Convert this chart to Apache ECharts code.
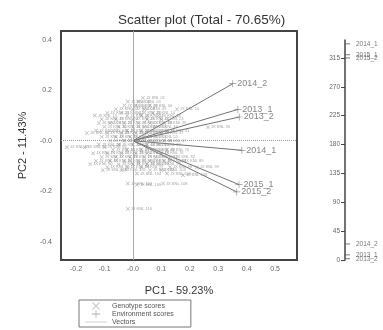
<!DOCTYPE html>
<html><head><meta charset="utf-8">
<script src="https://cdn.jsdelivr.net/npm/echarts@6/dist/echarts.min.js"></script>
<style>html,body{margin:0;padding:0;background:#fff}#c{width:383px;height:330px}</style>
</head><body><div id="c"></div>
<script>
// ---- data ----
const envNames = ['2014_2','2013_1','2013_2','2014_1','2015_1','2015_2'];
const envX = [0.351, 0.369, 0.374, 0.383, 0.373, 0.365];
const envY = [0.226, 0.124, 0.094, -0.038, -0.174, -0.203];
const envAngle = [25, 8, 2, 337, 320, 315];
const xTicks = [-0.2,-0.1,0,0.1,0.2,0.3,0.4,0.5];
const yTicks = [-0.4,-0.2,0,0.2,0.4];
const angleTicks = [0,45,90,135,180,225,270,315];
const genoX = [0.035,-0.018,0.02,-0.03,0.01,0.06,-0.06,0.0,0.04,0.155,-0.09,-0.04,0.02,0.07,-0.134,-0.02,0.03,0.09,
 -0.11,-0.06,0.0,0.05,0.1,-0.12,-0.08,-0.03,0.02,0.06,0.11,-0.1,-0.05,0.0,0.04,0.08,0.264,-0.13,-0.07,-0.02,0.03,0.07,0.12,
 -0.162,-0.09,-0.04,0.01,0.05,0.1,-0.11,-0.06,-0.01,0.04,0.08,-0.08,-0.03,0.02,0.06,0.11,-0.12,-0.05,0.0,0.05,0.09,
 -0.232,-0.17,-0.1,-0.07,-0.02,0.03,0.07,0.12,-0.14,-0.09,-0.04,0.01,0.05,0.1,-0.11,-0.06,-0.01,0.04,0.08,0.14,
 -0.13,-0.08,-0.03,0.02,0.06,0.11,0.17,-0.15,-0.05,0.0,0.05,0.09,-0.09,-0.02,0.03,0.13,0.225,-0.106,-0.04,0.06,0.1,
 0.014,0.12,0.176,-0.018,0.106,0.014,-0.018];
const genoY = [0.17,0.155,0.155,0.14,0.14,0.14,0.125,0.125,0.125,0.125,0.11,0.11,0.11,0.11,0.10,0.10,0.10,0.10,
 0.085,0.085,0.085,0.085,0.085,0.07,0.07,0.07,0.07,0.07,0.07,0.055,0.055,0.055,0.055,0.055,0.053,0.04,0.04,0.04,0.04,0.04,0.04,
 0.03,0.03,0.03,0.03,0.03,0.03,0.015,0.015,0.015,0.015,0.015,0.0,0.0,0.0,0.0,0.0,-0.015,-0.015,-0.015,-0.015,-0.015,
 -0.026,-0.026,-0.026,-0.035,-0.035,-0.035,-0.035,-0.035,-0.05,-0.05,-0.05,-0.05,-0.05,-0.05,-0.065,-0.065,-0.065,-0.065,-0.065,-0.065,
 -0.08,-0.08,-0.08,-0.08,-0.08,-0.08,-0.08,-0.093,-0.093,-0.093,-0.093,-0.093,-0.105,-0.105,-0.105,-0.105,-0.105,-0.117,-0.117,-0.117,-0.117,
 -0.13,-0.13,-0.137,-0.17,-0.17,-0.175,-0.27];
const genoNames = genoX.map((_, i) => 'JX KNL ' + String(i + 1).padStart(2, '0'));

// ---- chart ----
const X_PATH = 'path://M0,1L1,0L5,4L9,0L10,1L6,5L10,9L9,10L5,6L1,10L0,9L4,5Z';
const PLUS_PATH = 'path://M4.5,0H5.5V4.5H10V5.5H5.5V10H4.5V5.5H0V4.5H4.5Z';
const LINE_PATH = 'path://M0,0H40V1H0Z';
const fmt = v => (Math.abs(v) < 1e-9 ? '-0.0' : v.toFixed(1));
const chart = echarts.init(document.getElementById('c'));
chart.setOption({
  animation: false,
  textStyle: { fontFamily: 'Liberation Sans, Arial, sans-serif' },
  title: { text: 'Scatter plot (Total - 70.65%)', left: 113, top: 8,
    textStyle: { fontSize: 13.5, fontWeight: 'normal', color: '#333' } },
  grid: [
    { left: 61, right: 86, top: 31, bottom: 70, show: true, borderColor: '#444', borderWidth: 2, backgroundColor: 'transparent' },
    { left: 345, width: 10, top: 40, bottom: 70 }
  ],
  xAxis: [
    { type: 'value', gridIndex: 0, min: -0.253, max: 0.577, splitLine: { show: false },
      axisLine: { show: false }, axisTick: { show: false },
      axisLabel: { customValues: xTicks, formatter: fmt, fontSize: 7, color: '#666', margin: 6 },
      name: 'PC1 - 59.23%', nameLocation: 'middle', nameGap: 25, nameTextStyle: { fontSize: 11, color: '#333' } },
    { type: 'value', gridIndex: 1, min: 0, max: 1, show: false }
  ],
  yAxis: [
    { type: 'value', gridIndex: 0, min: -0.473, max: 0.435, splitLine: { show: false },
      axisLine: { show: false }, axisTick: { show: false },
      axisLabel: { customValues: yTicks, formatter: fmt, fontSize: 7, color: '#666', margin: 9 },
      name: 'PC2 - 11.43%', nameLocation: 'middle', nameGap: 33, nameTextStyle: { fontSize: 11, color: '#333' } },
    { type: 'value', gridIndex: 1, min: 0, max: 343, splitLine: { show: false },
      axisLine: { show: true, lineStyle: { color: '#444', width: 1.5 } },
      axisTick: { show: true, customValues: angleTicks, length: 4, lineStyle: { color: '#444' } },
      axisLabel: { customValues: angleTicks, fontSize: 6.5, color: '#666', margin: 5 } }
  ],
  legend: {
    orient: 'vertical', left: 79, top: 300, width: 113,
    padding: [2, 17, 1, 6], itemGap: 0, itemWidth: 22, itemHeight: 8,
    borderColor: '#777', borderWidth: 1,
    textStyle: { fontSize: 7, color: '#555', lineHeight: 8 },
    data: [
      { name: 'Genotype scores', icon: X_PATH, itemStyle: { color: '#bbb' } },
      { name: 'Environment scores', icon: PLUS_PATH, itemStyle: { color: '#999' } },
      { name: 'Vectors', icon: LINE_PATH, itemStyle: { color: '#aaa', borderWidth: 0 }, lineStyle: { width: 0, color: '#aaa' } }
    ]
  },
  series: [
    { name: 'Genotype scores', type: 'scatter', xAxisIndex: 0, yAxisIndex: 0,
      symbol: X_PATH, symbolSize: 4, itemStyle: { color: '#999' },
      label: { show: true, position: 'right', distance: 1, fontSize: 4, color: '#8a8a8a', formatter: p => p.name },
      data: genoX.map((x, i) => ({ name: genoNames[i], value: [x, genoY[i]] })),
      markLine: { silent: true, symbol: 'none', label: { show: false },
        data: [
          { xAxis: 0, lineStyle: { color: '#aaa', type: 'solid', width: 1 } },
          { yAxis: 0, lineStyle: { color: '#999', type: 'dotted', width: 1 } }
        ] } },
    { name: 'Vectors', type: 'lines', coordinateSystem: 'cartesian2d', xAxisIndex: 0, yAxisIndex: 0,
      lineStyle: { color: '#707070', width: 1, opacity: 1 },
      data: envX.map((x, i) => ({ coords: [[0, 0], [x, envY[i]]] })) },
    { name: 'Environment scores', type: 'scatter', xAxisIndex: 0, yAxisIndex: 0,
      symbol: PLUS_PATH, symbolSize: 7, itemStyle: { color: '#777' },
      label: { show: true, position: 'right', distance: 1, fontSize: 9, color: '#666', formatter: p => p.name },
      data: envX.map((x, i) => ({ name: envNames[i], value: [x, envY[i]] })) },
    { name: 'angles', type: 'scatter', xAxisIndex: 1, yAxisIndex: 1,
      symbol: 'rect', symbolSize: [5, 1], symbolOffset: [2.5, 0], itemStyle: { color: '#555' },
      label: { show: true, position: 'right', distance: 6, fontSize: 6.5, color: '#555', formatter: p => p.name },
      data: envAngle.map((a, i) => ({ name: envNames[i], value: [0, a] })) }
  ]
});
</script></body></html>
